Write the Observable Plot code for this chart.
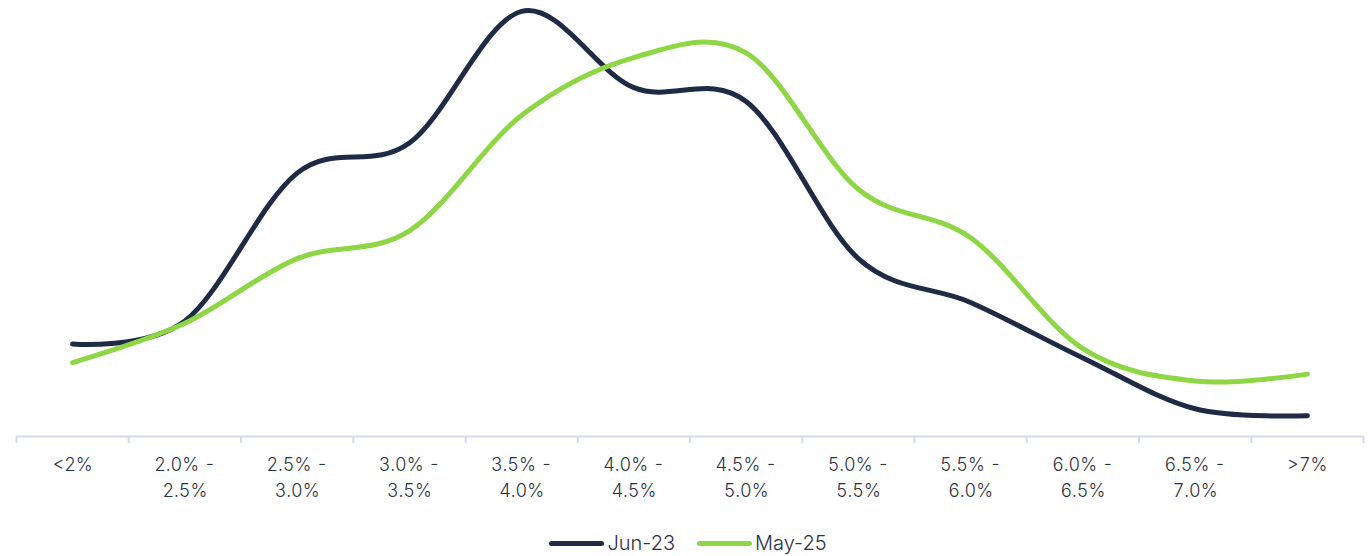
<!DOCTYPE html>
<html>
<head>
<meta charset="utf-8">
<script src="https://cdn.jsdelivr.net/npm/d3@7"></script>
<script src="https://cdn.jsdelivr.net/npm/@observablehq/plot@0.6"></script>
<style>
  body { margin: 0; background: #fff; font-family: Inter, "Noto Sans", sans-serif; }
  #legend { display: flex; justify-content: center; align-items: center; gap: 22px; height: 46px; margin-left: 8px; font-size: 20px; color: #2b3145; font-weight: 300; }
  .item { display: flex; align-items: center; gap: 3px; }
  .sw { width: 55px; height: 5px; border-radius: 3px; }
</style>
</head>
<body>
<div id="chart"></div>
<div id="legend"></div>
<script>
const categories = ["<2%", "2.0% -\n2.5%", "2.5% -\n3.0%", "3.0% -\n3.5%", "3.5% -\n4.0%", "4.0% -\n4.5%",
  "4.5% -\n5.0%", "5.0% -\n5.5%", "5.5% -\n6.0%", "6.0% -\n6.5%", "6.5% -\n7.0%", ">7%"];
const seriesNames = ["Jun-23", "May-25"];
const jun23 = [4.0, 5.0, 11.4, 12.7, 18.4, 15.1, 14.5, 7.7, 5.8, 3.4, 1.2, 0.9];
const may25 = [3.2, 4.9, 7.7, 8.9, 13.9, 16.4, 16.6, 10.7, 8.6, 3.8, 2.4, 2.7];
const colors = ["#1f2a44", "#8ed646"];

const data = categories.flatMap((c, i) => [
  {i, v: jun23[i], s: seriesNames[0]},
  {i, v: may25[i], s: seriesNames[1]}
]);

const chart = Plot.plot({
  width: 1368, height: 520,
  marginLeft: 16, marginRight: 5, marginTop: 0, marginBottom: 84,
  style: {fontFamily: "Inter, 'Noto Sans', sans-serif", color: "#2b3145"},
  x: {type: "linear", domain: [-0.5, categories.length - 0.5], axis: null},
  y: {domain: [0, 18.87], axis: null},
  color: {domain: seriesNames, range: colors},
  marks: [
    Plot.ruleY([0], {stroke: "#d5d9ea", strokeWidth: 2}),
    Plot.axisX(d3.range(categories.length + 1).map(k => k - 0.5), {tickSize: 7, tickFormat: () => "", stroke: "#d5d9ea", strokeWidth: 2, label: null}),
    Plot.axisX(d3.range(categories.length), {tickSize: 0, tickPadding: 16, tickFormat: i => categories[i], fontSize: 18, fontWeight: 300, lineHeight: 1.45, fill: "#2b3145", label: null}),
    Plot.line(data, {x: "i", y: "v", stroke: "s", strokeWidth: 5, strokeLinecap: "round", strokeLinejoin: "round", curve: d3.curveCardinal.tension(0)})
  ]
});
document.getElementById("chart").appendChild(chart);

const legend = document.getElementById("legend");
seriesNames.forEach((n, k) => {
  const it = document.createElement("div");
  it.className = "item";
  it.innerHTML = `<span class="sw" style="background:${colors[k]}"></span><span>${n}</span>`;
  legend.appendChild(it);
});
</script>
</body>
</html>
